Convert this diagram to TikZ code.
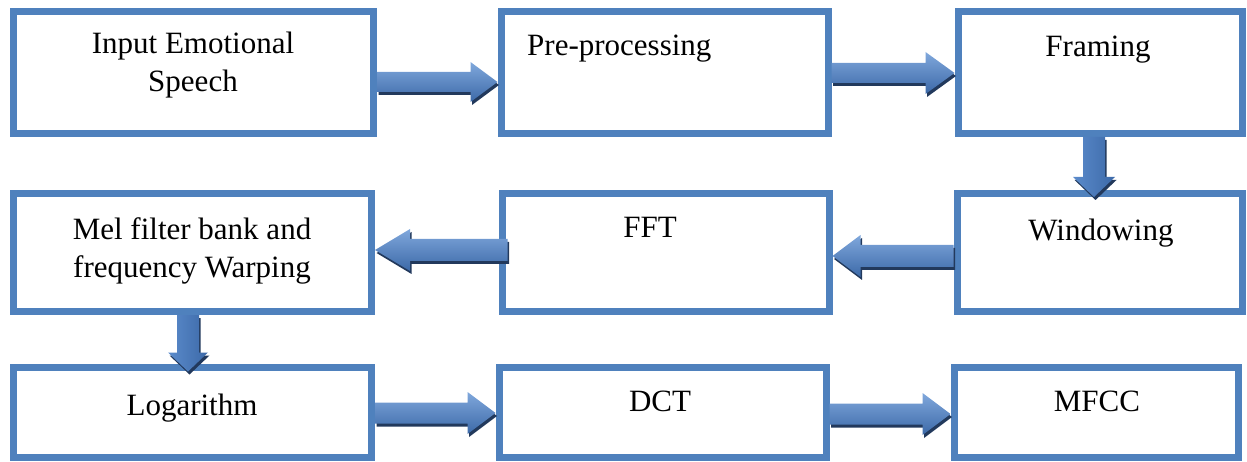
\documentclass[tikz,border=0pt]{standalone}
\usepackage{fontspec}
\setmainfont{Liberation Serif}
\usetikzlibrary{calc}

\definecolor{boxblue}{HTML}{4F81BD}
\definecolor{arrowlight}{HTML}{80A8DC}
\definecolor{arrowmid}{HTML}{5B8BCB}
\definecolor{arrowdark}{HTML}{3C69A8}
\definecolor{arrowshadow}{HTML}{22395C}

\tikzset{
  stage/.style={draw=boxblue, line width=7pt, fill=white, inner sep=0pt},
  caption/.style={font=\fontsize{31}{38}\selectfont, text=black, align=center, inner sep=0pt},
  hshade/.style={top color=arrowlight, middle color=arrowmid, bottom color=arrowdark},
  vshade/.style={left color=arrowmid, middle color=arrowlight, right color=arrowdark},
}

% block arrow: #1 start, #2 tip, #3 half shaft width, #4 half head width,
% #5 head length, #6 shading style
\newcommand\blockarrow[6]{%
  \coordinate (bas) at (#1);
  \coordinate (bat) at (#2);
  \coordinate (bab) at ($(bat)!#5!(bas)$);
  \fill[arrowshadow]
    ($(bas)!#3!90:(bat)+(1.5,3)$) -- ($(bab)!#3!90:(bat)+(1.5,3)$) --
    ($(bab)!#4!90:(bat)+(1.5,3)$) -- ($(bat)+(1.5,3)$) --
    ($(bab)!#4!-90:(bat)+(1.5,3)$) -- ($(bab)!#3!-90:(bat)+(1.5,3)$) --
    ($(bas)!#3!-90:(bat)+(1.5,3)$) -- cycle;
  \shade[#6]
    ($(bas)!#3!90:(bat)$) -- ($(bab)!#3!90:(bat)$) --
    ($(bab)!#4!90:(bat)$) -- (bat) --
    ($(bab)!#4!-90:(bat)$) -- ($(bab)!#3!-90:(bat)$) --
    ($(bas)!#3!-90:(bat)$) -- cycle;
}

\begin{document}
\begin{tikzpicture}[x=1pt, y=-1pt]
\useasboundingbox (0,0) rectangle (1247,462);

% processing stages
\node[stage, minimum width=360pt, minimum height=122pt] (b1) at (193.5,72.5) {};
\node[stage, minimum width=327pt, minimum height=122pt] (b2) at (664.5,72.5) {};
\node[stage, minimum width=284pt, minimum height=122pt] (b3) at (1100,72.5) {};
\node[stage, minimum width=358pt, minimum height=118pt] (b4) at (192.5,252.5) {};
\node[stage, minimum width=327pt, minimum height=118pt] (b5) at (665.5,252.5) {};
\node[stage, minimum width=285pt, minimum height=118pt] (b6) at (1099.5,252.5) {};
\node[stage, minimum width=358pt, minimum height=90pt] (b7) at (192.5,412) {};
\node[stage, minimum width=327pt, minimum height=90pt] (b8) at (662.5,412) {};
\node[stage, minimum width=284pt, minimum height=90pt] (b9) at (1096,412) {};

% stage titles (two-line titles are placed by the baseline of their last line)
\node[caption, anchor=base] (t1) at (193,92) {Input Emotional\\Speech};
\node[caption, anchor=base west] (t2) at (527,56) {Pre-processing};
\node[caption, anchor=base] (t3) at (1098,57) {Framing};
\node[caption, anchor=base] (t4) at (192,277) {Mel filter bank and\\frequency Warping};
\node[caption, anchor=base] (t5) at (650,238) {FFT};
\node[caption, anchor=base] (t6) at (1101,241) {Windowing};
\node[caption, anchor=base] (t7) at (192,415) {Logarithm};
\node[caption, anchor=base] (t8) at (660,411) {DCT};
\node[caption, anchor=base] (t9) at (1097,411) {MFCC};

% flow arrows
\blockarrow{b1.east |- 0,82}{b2.west |- 0,82}{10pt}{20pt}{27pt}{hshade}
\blockarrow{b2.east |- 0,73}{b3.west |- 0,73}{10pt}{21pt}{29pt}{hshade}
\blockarrow{b3.south -| 1094,0}{$(b6.north -| 1094,0)+(0,7)$}{11pt}{21pt}{20pt}{vshade}
\blockarrow{b6.west |- 0,256}{b5.east |- 0,256}{11pt}{21pt}{28pt}{hshade}
\blockarrow{$(b5.west |- 0,250)+(9,0)$}{b4.east |- 0,250}{11pt}{21pt}{35pt}{hshade}
\blockarrow{b4.south -| 188,0}{$(b7.north -| 188,0)+(0,8)$}{11pt}{20pt}{19pt}{vshade}
\blockarrow{b7.east |- 0,413}{b8.west |- 0,413}{10.5pt}{21pt}{28pt}{hshade}
\blockarrow{b8.east |- 0,414}{b9.west |- 0,414}{10.5pt}{21pt}{28pt}{hshade}
\end{tikzpicture}
\end{document}
